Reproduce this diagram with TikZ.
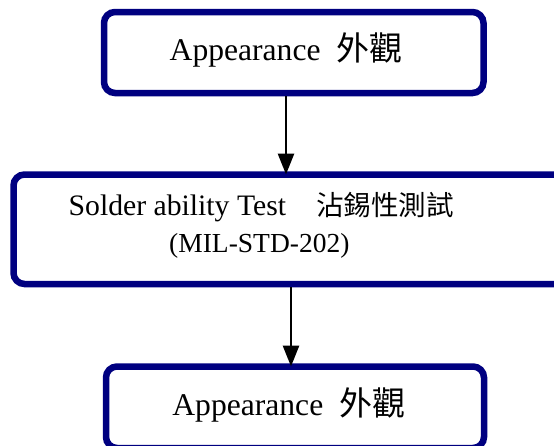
\documentclass[tikz,border=0pt]{standalone}
\usepackage{fontspec}
\setmainfont{Liberation Serif}
\newfontfamily\cjk{Noto Sans CJK TC}
\usetikzlibrary{arrows.meta}
\definecolor{boxnavy}{RGB}{0,0,128}
\tikzset{
  flowbox/.style={draw=boxnavy, line width=6.5pt, rounded corners=11pt, fill=white, inner sep=0pt, outer sep=0pt},
  flowtext/.style={anchor=base west, inner sep=0pt, text=black},
  flowarrow/.style={line width=2.8pt, -{Triangle[length=21pt,width=16pt]}, shorten <=3.25pt}
}
\begin{document}
\begin{tikzpicture}[x=1pt,y=-1pt]
  \useasboundingbox (0,0) rectangle (554,445);
  \clip (0,0) rectangle (554,445);
  \fill[white] (0,0) rectangle (554,445);
  % boxes
  \node[flowbox, minimum width=379.5pt, minimum height=81pt] (top) at (293.75,52.5) {};
  \node[flowbox, minimum width=566.5pt, minimum height=109.5pt] (mid) at (296.75,229.25) {};
  \node[flowbox, minimum width=378pt, minimum height=81.5pt] (bot) at (295,407.25) {};
  % texts
  \node[flowtext, font=\fontsize{31.6}{36}\selectfont] (toptext) at (169.5,60) {Appearance\hspace{16pt}{\cjk\fontsize{33}{36}\selectfont 外觀}};
  \node[flowtext, font=\fontsize{29.7}{34}\selectfont] (midtext1) at (68.5,215) {Solder ability Test\hspace{30pt}{\cjk\fontsize{27.5}{32}\selectfont 沾錫性測試}};
  \node[flowtext, font=\fontsize{27.5}{33}\selectfont] (midtext2) at (169,252.7) {(MIL-STD-202)};
  \node[flowtext, font=\fontsize{31.6}{36}\selectfont] (bottext) at (172.2,415) {Appearance\hspace{16pt}{\cjk\fontsize{33}{36}\selectfont 外觀}};
  % arrows
  \coordinate (a1) at (286,0);
  \coordinate (a2) at (291,0);
  \draw[flowarrow] (top.south -| a1) -- (mid.north -| a1);
  \draw[flowarrow] (mid.south -| a2) -- (bot.north -| a2);
\end{tikzpicture}
\end{document}
